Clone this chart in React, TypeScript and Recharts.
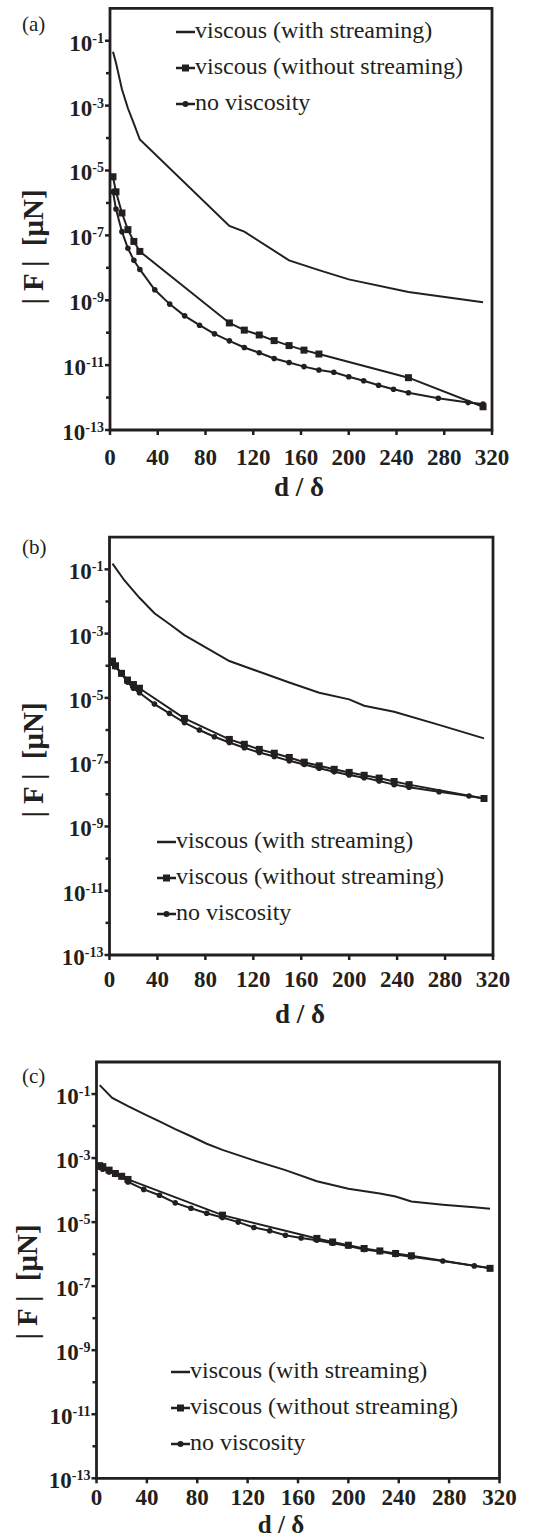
import { LineChart, Line, XAxis, YAxis, ReferenceArea, Legend } from 'recharts'

const INK = '#231f20'
const SERIF = '"Liberation Serif", "Times New Roman", serif'

// shared axis ticks
const xTicks = [0, 40, 80, 120, 160, 200, 240, 280, 320]
const yTickExps = [-13, -12, -11, -10, -9, -8, -7, -6, -5, -4, -3, -2, -1]

// d / δ sample positions
const nearX = [2.5, 5, 10, 15, 20, 25]
const fullX = [
  2.5, 5, 10, 15, 20, 25, 37.5, 50, 62.5, 75, 87.5, 100, 112.5, 125, 137.5, 150,
  162.5, 175, 187.5, 200, 212.5, 225, 237.5, 250, 275, 300, 312.5,
]

// (a)
const aStreamX = [...nearX, 100, 112.5, 150, 175, 200, 250, 312.5]
const aStreamF = [4.6e-2, 2.1e-2, 3.2e-3, 8.3e-4, 2.8e-4, 9.0e-5, 1.95e-7, 1.3e-7, 1.7e-8, 8.5e-9, 4.4e-9, 1.8e-9, 8.7e-10]
const aSquareX = [...nearX, 100, 112.5, 125, 137.5, 150, 162.5, 175, 250, 312.5]
const aSquareF = [6.4e-6, 2.2e-6, 4.9e-7, 1.5e-7, 6.5e-8, 3.2e-8, 2.0e-10, 1.2e-10, 8.5e-11, 5.7e-11, 4.0e-11, 2.9e-11, 2.2e-11, 4.1e-12, 5.2e-13]
const aCircleF = [
  2.2e-6, 6.5e-7, 1.3e-7, 4.0e-8, 1.7e-8, 8.9e-9, 2.1e-9, 7.6e-10, 3.3e-10, 1.7e-10, 9.2e-11, 5.6e-11, 3.5e-11, 2.4e-11,
  1.6e-11, 1.2e-11, 9.0e-12, 7.1e-12, 6.0e-12, 4.4e-12, 3.3e-12, 2.4e-12, 1.8e-12, 1.4e-12, 9.5e-13, 7.0e-13, 6.3e-13,
]

// (b)
const bStreamX = [2.5, 12.5, 25, 37.5, 50, 62.5, 100, 125, 150, 175, 200, 212.5, 237.5, 275, 312.5]
const bStreamF = [0.15, 4.5e-2, 1.3e-2, 4.3e-3, 2.0e-3, 9.0e-4, 1.4e-4, 6.5e-5, 3.0e-5, 1.45e-5, 9.0e-6, 5.7e-6, 3.7e-6, 1.45e-6, 5.5e-7]
const bSquareX = [...nearX, 62.5, 100, 112.5, 125, 137.5, 150, 162.5, 175, 187.5, 200, 212.5, 225, 237.5, 250, 312.5]
const bSquareF = [1.4e-4, 1.0e-4, 5.8e-5, 3.6e-5, 2.6e-5, 2.0e-5, 2.3e-6, 5.1e-7, 3.6e-7, 2.5e-7, 1.9e-7, 1.4e-7, 1.0e-7, 7.7e-8, 6.0e-8, 4.8e-8, 3.9e-8, 3.2e-8, 2.5e-8, 2.0e-8, 7.4e-9]
const bCircleF = [
  1.2e-4, 9.3e-5, 5.7e-5, 3.1e-5, 2.0e-5, 1.45e-5, 6.4e-6, 3.3e-6, 1.7e-6, 1.0e-6, 6.2e-7, 4.1e-7, 2.8e-7, 2.0e-7,
  1.5e-7, 1.1e-7, 8.5e-8, 6.5e-8, 5.0e-8, 4.0e-8, 3.3e-8, 2.6e-8, 2.0e-8, 1.65e-8, 1.2e-8, 8.9e-9, 7.4e-9,
]

// (c)
const cStreamX = [2.5, 12.5, 25, 37.5, 50, 62.5, 75, 87.5, 100, 125, 150, 175, 200, 225, 237.5, 250, 275, 300, 312.5]
const cStreamF = [0.19, 7.6e-2, 4.2e-2, 2.4e-2, 1.4e-2, 8.0e-3, 4.8e-3, 2.8e-3, 1.8e-3, 8.5e-4, 4.2e-4, 1.9e-4, 1.1e-4, 7.8e-5, 6.3e-5, 4.4e-5, 3.5e-5, 2.9e-5, 2.6e-5]
const cSquareX = [...nearX, 100, 175, 187.5, 200, 212.5, 225, 237.5, 250, 312.5]
const cSquareF = [5.8e-4, 5.4e-4, 4.2e-4, 3.3e-4, 2.7e-4, 2.15e-4, 1.65e-5, 3.1e-6, 2.4e-6, 1.9e-6, 1.5e-6, 1.26e-6, 1.05e-6, 8.9e-7, 3.6e-7]
const cCircleF = [
  5.1e-4, 4.5e-4, 3.7e-4, 3.1e-4, 2.6e-4, 1.8e-4, 1.05e-4, 6.9e-5, 4.0e-5, 2.7e-5, 1.9e-5, 1.4e-5, 1.0e-5, 6.8e-6,
  5.4e-6, 3.9e-6, 3.2e-6, 2.7e-6, 2.2e-6, 1.8e-6, 1.4e-6, 1.2e-6, 9.8e-7, 8.3e-7, 6.1e-7, 4.3e-7, 3.7e-7,
]

const seriesNames = ['viscous (with streaming)', 'viscous (without streaming)', 'no viscosity']

const zip = (xs: number[], fs: number[]) => xs.map((x, i) => ({ x, f: fs[i] }))

function YTick(props: any) {
  const { x, y, payload } = props
  const p = Math.round(Math.log10(payload.value))
  const major = p % 2 !== 0
  return (
    <g>
      <line x1={x} x2={x - (major ? 5 : 4)} y1={y} y2={y} stroke={INK} strokeWidth={2.5} />
      {major && (
        <text x={x - 6} y={y + 10} textAnchor="end" fontFamily={SERIF} fontWeight="bold" fontSize={23} fill={INK}>
          10
          <tspan fontSize={14} dy={-8}>
            {p}
          </tspan>
        </text>
      )}
    </g>
  )
}

function makeXTick(labelDy: number) {
  return (props: any) => {
    const { x, y, payload } = props
    return (
      <g>
        <line x1={x} x2={x} y1={y} y2={y + 5} stroke={INK} strokeWidth={2.5} />
        <text x={x} y={y + labelDy} textAnchor="middle" fontFamily={SERIF} fontWeight="bold" fontSize={23} fill={INK}>
          {payload.value}
        </text>
      </g>
    )
  }
}

function SquareDot(props: any) {
  const { cx, cy, index } = props
  if (cx == null || cy == null) return <g key={`s-${index}`} />
  return <rect key={`s-${index}`} x={cx - 3.5} y={cy - 3.5} width={7} height={7} fill={INK} />
}

function LegendRows({ payload }: any) {
  const rows = [...(payload || [])].sort(
    (a: any, b: any) => seriesNames.indexOf(a.value) - seriesNames.indexOf(b.value),
  )
  return (
    <div style={{ fontFamily: SERIF, color: INK }}>
      {rows.map((entry: any) => (
        <div key={entry.value} style={{ display: 'flex', alignItems: 'flex-start', height: 36 }}>
          <svg width={19} height={12} style={{ marginTop: 8.5, flex: 'none' }}>
            <line x1={0} x2={19} y1={6} y2={6} stroke={INK} strokeWidth={2.5} />
            {entry.type === 'square' && <rect x={6} y={2.5} width={7} height={7} fill={INK} />}
            {entry.type === 'circle' && <circle cx={9.5} cy={6} r={3} fill={INK} />}
          </svg>
          <span style={{ fontSize: 24, lineHeight: '24px', whiteSpace: 'nowrap' }}>{entry.value}</span>
        </div>
      ))}
    </div>
  )
}

interface PanelProps {
  tag: string
  top: number
  height: number
  plotLeft: number
  plotRight: number
  plotTop: number
  plotBottom: number
  tagY: number
  yTitleX: number
  yTitleY: number
  xTitleX: number
  xTitleY: number
  xTitleSize: number
  tickDy: number
  legendLeft: number
  legendTop: number
  stream: { x: number; f: number }[]
  square: { x: number; f: number }[]
  circle: { x: number; f: number }[]
}

function Panel(p: PanelProps) {
  const W = 533
  return (
    <div style={{ position: 'absolute', left: 0, top: p.top }}>
      <LineChart
        width={W}
        height={p.height}
        margin={{ top: p.plotTop, right: W - p.plotRight, bottom: 0, left: 0 }}
      >
        <XAxis
          dataKey="x"
          type="number"
          domain={[0, 320]}
          ticks={xTicks}
          interval={0}
          allowDataOverflow
          axisLine={false}
          tickLine={false}
          tickSize={0}
          tickMargin={0}
          tick={makeXTick(p.tickDy)}
          height={p.height - p.plotBottom}
          label={{
            content: () => (
              <text x={p.xTitleX} y={p.xTitleY} textAnchor="middle" fontFamily={SERIF} fontWeight="bold" fontSize={p.xTitleSize} fill={INK}>
                d / δ
              </text>
            ),
          }}
        />
        <YAxis
          dataKey="f"
          type="number"
          scale="log"
          domain={[1e-13, 1]}
          allowDataOverflow
          ticks={yTickExps.map((e) => Math.pow(10, e))}
          interval={0}
          axisLine={false}
          tickLine={false}
          tickSize={0}
          tickMargin={0}
          tick={YTick}
          width={p.plotLeft}
          label={{
            content: () => (
              <g>
                <text x={22} y={p.tagY} fontFamily={SERIF} fontSize={21} fill={INK}>
                  {p.tag}
                </text>
                <text
                  x={p.yTitleX}
                  y={p.yTitleY}
                  transform={`rotate(-90 ${p.yTitleX} ${p.yTitleY})`}
                  textAnchor="middle"
                  fontFamily={SERIF}
                  fontWeight="bold"
                  fontSize={29}
                  fill={INK}
                  style={{ whiteSpace: 'pre' }}
                >
                  {'| F |  [μN]'}
                </text>
              </g>
            ),
          }}
        />
        <ReferenceArea x1={0} x2={320} y1={1e-13} y2={1} fill="none" stroke={INK} strokeWidth={2.8} ifOverflow="visible" />
        <Legend
          layout="vertical"
          align="center"
          verticalAlign="middle"
          content={LegendRows}
          wrapperStyle={{ left: p.legendLeft, top: p.legendTop, width: 'auto', height: 'auto' }}
        />
        <Line
          data={p.stream}
          dataKey="f"
          name={seriesNames[0]}
          legendType="line"
          stroke={INK}
          strokeWidth={2}
          dot={false}
          activeDot={false}
          isAnimationActive={false}
        />
        <Line
          data={p.square}
          dataKey="f"
          name={seriesNames[1]}
          legendType="square"
          stroke={INK}
          strokeWidth={2}
          dot={SquareDot}
          activeDot={false}
          isAnimationActive={false}
        />
        <Line
          data={p.circle}
          dataKey="f"
          name={seriesNames[2]}
          legendType="circle"
          stroke={INK}
          strokeWidth={2}
          dot={{ r: 2.8, fill: INK, stroke: INK, strokeWidth: 0 }}
          activeDot={false}
          isAnimationActive={false}
        />
      </LineChart>
    </div>
  )
}

export default function App() {
  return (
    <div style={{ position: 'absolute', left: 0, top: 0, width: 533, height: 1539, background: '#fff' }}>
      <Panel
        tag="(a)"
        top={0}
        height={510}
        plotLeft={110}
        plotRight={492}
        plotTop={8.3}
        plotBottom={430}
        tagY={31}
        yTitleX={43}
        yTitleY={247}
        xTitleX={299}
        xTitleY={496}
        xTitleSize={27}
        tickDy={35}
        legendLeft={176}
        legendTop={17.5}
        stream={zip(aStreamX, aStreamF)}
        square={zip(aSquareX, aSquareF)}
        circle={zip(fullX, aCircleF)}
      />
      <Panel
        tag="(b)"
        top={510}
        height={520}
        plotLeft={109.5}
        plotRight={493}
        plotTop={27.2}
        plotBottom={445}
        tagY={44}
        yTitleX={43}
        yTitleY={250}
        xTitleX={300}
        xTitleY={513}
        xTitleSize={27}
        tickDy={32}
        legendLeft={157}
        legendTop={317.5}
        stream={zip(bStreamX, bStreamF)}
        square={zip(bSquareX, bSquareF)}
        circle={zip(fullX, bCircleF)}
      />
      <Panel
        tag="(c)"
        top={1030}
        height={509}
        plotLeft={96.5}
        plotRight={499.5}
        plotTop={32}
        plotBottom={448.3}
        tagY={53}
        yTitleX={37}
        yTitleY={252}
        xTitleX={281}
        xTitleY={503}
        xTitleSize={25}
        tickDy={27}
        legendLeft={171}
        legendTop={327.5}
        stream={zip(cStreamX, cStreamF)}
        square={zip(cSquareX, cSquareF)}
        circle={zip(fullX, cCircleF)}
      />
    </div>
  )
}
